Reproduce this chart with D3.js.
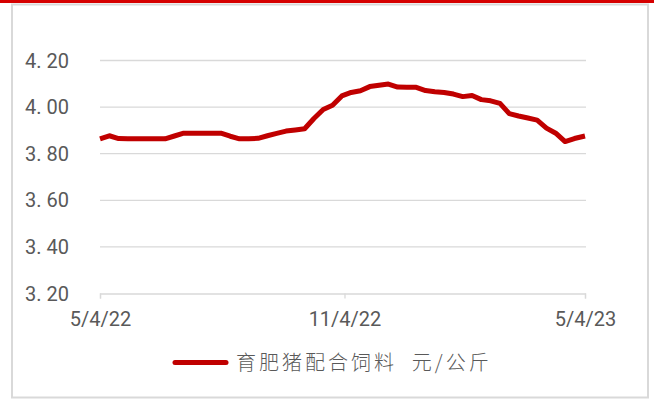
<!DOCTYPE html>
<html>
  <head>
    <meta charset="utf-8">
    <title>育肥猪配合饲料</title>
    <script src="https://d3js.org/d3.v7.min.js"></script>
    <style>
      html, body { margin: 0; padding: 0; background: #fff; }
      .tick-label { font-family: Roboto, "Noto Sans CJK SC", sans-serif; font-size: 20px; fill: #595959; }
      .legend-label { font-family: "Noto Sans CJK SC", sans-serif; font-size: 20px; fill: #595959; font-weight: 300; letter-spacing: 3px; white-space: pre; }
    </style>
  </head>
  <body>
    <div id="vis"></div>
    <script>
        const width = 654;
        const height = 401;

        // weekly observations, 5/4/22 - 5/4/23
        const dates = [
          "2022-05-04","2022-05-11","2022-05-18","2022-05-25","2022-06-01","2022-06-08","2022-06-15",
          "2022-06-22","2022-06-29","2022-07-06","2022-07-13","2022-07-20","2022-07-27","2022-08-03",
          "2022-08-10","2022-08-17","2022-08-24","2022-08-31","2022-09-07","2022-09-14","2022-09-21",
          "2022-09-28","2022-10-05","2022-10-12","2022-10-19","2022-10-26","2022-11-02","2022-11-09",
          "2022-11-16","2022-11-23","2022-11-30","2022-12-07","2022-12-14","2022-12-21","2022-12-28",
          "2023-01-04","2023-01-11","2023-01-18","2023-01-25","2023-02-01","2023-02-08","2023-02-15",
          "2023-02-22","2023-03-01","2023-03-08","2023-03-15","2023-03-22","2023-03-29","2023-04-05",
          "2023-04-12","2023-04-19","2023-04-26","2023-05-04"
        ];
        const prices = [
          3.864, 3.877, 3.865, 3.864, 3.864, 3.864, 3.864,
          3.864, 3.876, 3.888, 3.888, 3.888, 3.888, 3.888,
          3.875, 3.864, 3.864, 3.866, 3.877, 3.887, 3.897,
          3.902, 3.907, 3.951, 3.990, 4.008, 4.048, 4.063,
          4.070, 4.088, 4.094, 4.099, 4.086, 4.085, 4.085,
          4.071, 4.066, 4.063, 4.056, 4.045, 4.050, 4.032,
          4.027, 4.016, 3.972, 3.962, 3.953, 3.944, 3.910,
          3.888, 3.852, 3.865, 3.876
        ];
        const yTicks = [3.2, 3.4, 3.6, 3.8, 4.0, 4.2];
        const xTicks = ["2022-05-04", "2022-11-04", "2023-05-04"];
        const seriesName = "育肥猪配合饲料  元/公斤";

        const parse = d3.timeParse("%Y-%m-%d");
        const data = dates.map((d, i) => ({ date: parse(d), value: prices[i] }));

        const svg = d3.select("#vis")
                      .append("svg")
                      .attr("width", width)
                      .attr("height", height);

        // red band on top + grey frame
        svg.append("rect")
           .attr("x", 0).attr("y", 0)
           .attr("width", width).attr("height", 3)
           .attr("fill", "#d60000");
        svg.append("rect")
           .attr("x", 12).attr("y", 4.5)
           .attr("width", 636).attr("height", 393)
           .attr("fill", "none")
           .attr("stroke", "#d9d9d9")
           .attr("stroke-width", 2);

        const x = d3.scaleTime()
                    .domain([parse(xTicks[0]), parse(xTicks[2])])
                    .range([100, 585]);
        const y = d3.scaleLinear()
                    .domain([3.2, 4.2])
                    .range([293.5, 60.5]);

        // horizontal gridlines
        svg.append("g")
           .selectAll("line")
           .data(yTicks.slice(1))
           .enter()
           .append("line")
           .attr("x1", 100).attr("x2", 586)
           .attr("y1", d => y(d)).attr("y2", d => y(d))
           .attr("stroke", "#d9d9d9")
           .attr("stroke-width", 1.3);

        // y labels
        svg.append("g")
           .selectAll("text")
           .data(yTicks)
           .enter()
           .append("text")
           .attr("class", "tick-label")
           .attr("x", 69)
           .attr("y", d => y(d) + 7)
           .attr("text-anchor", "end")
           .text(d => d3.format(".2f")(d).replace(".", ". "));

        // x axis
        const xAxis = d3.axisBottom(x)
                        .tickValues(xTicks.map(parse))
                        .tickSize(5)
                        .tickFormat(d3.timeFormat("%-m/%-d/%y"));
        const gx = svg.append("g")
                      .attr("transform", "translate(0," + y(3.2) + ")")
                      .call(xAxis);
        gx.select(".domain").attr("stroke", "#d9d9d9").attr("stroke-width", 1.3);
        gx.selectAll(".tick line").attr("stroke", "#d9d9d9").attr("stroke-width", 1.3);
        gx.selectAll(".tick text")
          .attr("class", "tick-label")
          .attr("y", 18)
          .attr("dy", "0.71em");

        // series line
        const line = d3.line()
                       .x(d => x(d.date))
                       .y(d => y(d.value));
        svg.append("path")
           .datum(data)
           .attr("d", line)
           .attr("fill", "none")
           .attr("stroke", "#c00000")
           .attr("stroke-width", 5)
           .attr("stroke-linejoin", "round");

        // legend
        svg.append("line")
           .attr("x1", 175).attr("x2", 226)
           .attr("y1", 362.5).attr("y2", 362.5)
           .attr("stroke", "#c00000")
           .attr("stroke-width", 5)
           .attr("stroke-linecap", "round");
        svg.append("text")
           .attr("class", "legend-label")
           .attr("x", 236)
           .attr("y", 369.5)
           .text(seriesName);
    </script>
  </body>
</html>
